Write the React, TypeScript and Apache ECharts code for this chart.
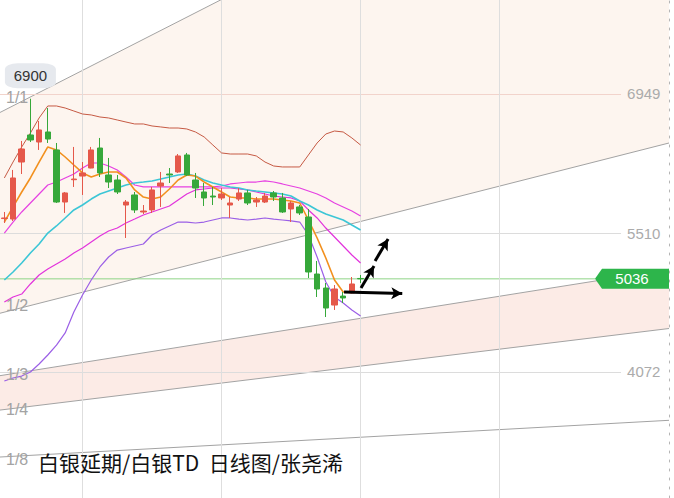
import React, { useEffect, useRef } from "react";
import * as echarts from "echarts";

// ---------- data ----------
const SLOT_COUNT = 77;
const categories = Array.from({ length: SLOT_COUNT }, (_, i) => `D${i + 1}`);

// [open, close, low, high]
const candles = [
  [5660, 5666, 5614, 5728],
  [5655, 6080, 5635, 6163],
  [6245, 6380, 6121, 6463],
  [6525, 6473, 6452, 6900],
  [6452, 6577, 6370, 6670],
  [6556, 6483, 6442, 6804],
  [6370, 5831, 5821, 6442],
  [5831, 5925, 5718, 5935],
  [6062, 6069, 5987, 6401],
  [6100, 6132, 5904, 6245],
  [6183, 6370, 6180, 6401],
  [6390, 6132, 6090, 6494],
  [6111, 6038, 5976, 6287],
  [6059, 5935, 5914, 6111],
  [5800, 5831, 5459, 5852],
  [5904, 5749, 5718, 5935],
  [5728, 5738, 5707, 5800],
  [5749, 5956, 5718, 5987],
  [5997, 6028, 5780, 6142],
  [6121, 6111, 6028, 6183],
  [6142, 6308, 6132, 6328],
  [6318, 6111, 6100, 6339],
  [6059, 5976, 5873, 6132],
  [5935, 5873, 5790, 6028],
  [5893, 5883, 5800, 5987],
  [5873, 5914, 5852, 5976],
  [5800, 5821, 5666, 5883],
  [5862, 5925, 5842, 5976],
  [5925, 5821, 5800, 5956],
  [5831, 5852, 5780, 5883],
  [5831, 5893, 5821, 5925],
  [5925, 5883, 5842, 5945],
  [5873, 5728, 5718, 5925],
  [5759, 5821, 5624, 5842],
  [5780, 5718, 5697, 5800],
  [5676, 5107, 5045, 5759],
  [5086, 4931, 4848, 5221],
  [4941, 4734, 4641, 4993],
  [4765, 4931, 4714, 4972],
  [4858, 4838, 4786, 4900],
  [4890, 4983, 4885, 5055],
  [5040, 5036, 4993, 5076],
];

const upperBand = [6080, 6245, 6401, 6545, 6701, 6825, 6825, 6804, 6773, 6742, 6732, 6711, 6701, 6680, 6659, 6639, 6639, 6618, 6608, 6597, 6597, 6587, 6556, 6504, 6421, 6339, 6328, 6328, 6328, 6308, 6245, 6204, 6194, 6194, 6194, 6318, 6442, 6535, 6566, 6556, 6494, 6421];
const ma5 = [5624, 5780, 5935, 6080, 6245, 6401, 6370, 6297, 6214, 6132, 6090, 6121, 6142, 6142, 6080, 5956, 5883, 5862, 5883, 5966, 6059, 6111, 6100, 6038, 5987, 5935, 5883, 5873, 5873, 5862, 5862, 5862, 5852, 5842, 5821, 5645, 5459, 5252, 5024, 4900, 4900, 4900];
const ma10 = [5510, 5624, 5728, 5821, 5914, 6007, 6038, 6080, 6121, 6183, 6235, 6235, 6204, 6163, 6090, 6007, 5987, 5987, 5987, 5987, 5987, 5987, 5987, 5987, 5987, 5997, 6018, 6028, 6038, 6038, 6049, 6038, 6018, 5997, 5976, 5945, 5914, 5873, 5821, 5780, 5738, 5686];
const ma20 = [5024, 5107, 5200, 5303, 5397, 5510, 5583, 5666, 5749, 5800, 5862, 5914, 5945, 5976, 6007, 6028, 6038, 6049, 6069, 6090, 6111, 6121, 6100, 6059, 6028, 6007, 5987, 5976, 5956, 5945, 5935, 5925, 5914, 5893, 5842, 5800, 5749, 5707, 5676, 5645, 5593, 5542];
const ma30 = [4796, 4848, 4879, 4983, 5076, 5138, 5190, 5241, 5303, 5355, 5417, 5479, 5531, 5562, 5614, 5655, 5697, 5728, 5759, 5790, 5852, 5914, 5956, 5966, 5976, 5976, 5976, 5966, 5956, 5935, 5914, 5893, 5883, 5873, 5842, 5749, 5666, 5562, 5469, 5376, 5283, 5200];
const lowerBand = [3979, 4010, 4030, 4072, 4155, 4248, 4351, 4476, 4693, 4869, 5024, 5159, 5262, 5334, 5355, 5376, 5397, 5490, 5542, 5583, 5624, 5624, 5614, 5624, 5645, 5666, 5666, 5655, 5645, 5655, 5666, 5655, 5645, 5635, 5624, 5490, 5262, 5003, 4848, 4786, 4714, 4651];

// Gann fan lines: price at the left edge and right edge of the plot
const gannLabels = ["1/1", "1/2", "1/3", "1/4", "1/8"];
const gannStart = [6758, 4680, 4034, 3678, 3192];
const gannEnd = [10289, 6442, 5135, 4522, 3572];

const levelLines = [6949, 5510, 4072];
const lastPrice = 5036;
const highMark = { index: 3, value: 6900 };
const verticalMarks = [9, 25, 41, 57];

// arrows: [fromIdx, fromPrice, toIdx, toPrice]
const arrows = [
  [39.1, 4900, 45.8, 4884],
  [41.05, 4941, 42.55, 5169],
  [42.67, 5221, 44.17, 5448],
];

const titleText = "白银延期/白银TD  日线图/张尧浠";

const X_MIN = -0.5;
const X_MAX = SLOT_COUNT - 0.5;
const Y_MIN = 2768;
const Y_MAX = 7921.8;

const UP = "#e5584a";
const DOWN = "#36a83a";

export default function App() {
  const ref = useRef<HTMLDivElement>(null);

  useEffect(() => {
    if (!ref.current) return;
    const chart = echarts.init(ref.current, undefined, { renderer: "svg" });

    const bands: [number, number, string][] = [
      [0, 1, "#fdf5ef"],
      [2, 3, "#fcebe6"],
    ];

    const maLine = (name: string, data: number[], color: string, width: number) => ({
      name,
      type: "line",
      xAxisIndex: 0,
      yAxisIndex: 0,
      data,
      symbol: "none",
      smooth: false,
      z: 5,
      silent: true,
      lineStyle: { color, width },
    });

    const gannSeries = gannLabels.map((lab, i) => {
      const s: any = {
        name: "gann" + lab,
        type: "line",
        xAxisIndex: 1,
        yAxisIndex: 0,
        data: [
          [X_MIN, gannStart[i]],
          [X_MAX, gannEnd[i]],
        ],
        symbol: "none",
        silent: true,
        z: 3,
        lineStyle: { color: "#a3a3a3", width: 1 },
      };
      return s;
    });

    // reference levels on first gann series
    gannSeries[0].markLine = {
      silent: true,
      symbol: ["none", "none"],
      lineStyle: { color: "#dcdcdc", width: 1, type: "solid" },
      label: {
        show: true,
        position: "end",
        distance: 6,
        formatter: "{b}",
        color: "#ababab",
        fontSize: 15,
        fontFamily: "Liberation Sans",
      },
      data: levelLines.map((v, k) => [
        {
          name: String(v),
          coord: [X_MIN, v],
          lineStyle: k === 0 ? { color: "#f2d3cb" } : undefined,
        },
        { coord: [70.98, v] },
      ]),
    };
    // last price line + tag (dedicated carrier series)
    const lastPriceSeries: any = {
      name: "last",
      type: "line",
      xAxisIndex: 1,
      yAxisIndex: 0,
      data: [[X_MIN, lastPrice], [68, lastPrice]],
      symbol: "none",
      silent: true,
      z: 4,
      lineStyle: { color: "#8fd487", width: 1, opacity: 1 },
      markPoint: {
        silent: true,
        symbol: "path://M0,10 L7,0 L74,0 L74,20 L7,20 Z",
        symbolSize: [74, 20],
        symbolKeepAspect: false,
        itemStyle: { color: "#2db54b" },
        label: {
          show: true,
          position: "inside",
          formatter: String(lastPrice),
          color: "#ffffff",
          fontSize: 15,
          fontFamily: "Liberation Sans",
        },
        data: [{ coord: [72.24, lastPrice] }],
      },
    };
    // vertical grid marks
    gannSeries[2].markLine = {
      silent: true,
      symbol: ["none", "none"],
      lineStyle: { color: "#dedede", width: 1, type: "solid" },
      label: { show: false },
      data: verticalMarks.map((x) => ({ xAxis: x })),
    };
    // arrows
    gannSeries[3].markLine = {
      silent: true,
      symbol: ["none", "arrow"],
      symbolSize: [9, 11],
      lineStyle: { color: "#000000", width: 3, type: "solid" },
      label: { show: false },
      z: 10,
      data: arrows.map((a) => [{ coord: [a[0], a[1]] }, { coord: [a[2], a[3]] }]),
    };

    const option: any = {
      animation: false,
      backgroundColor: "#ffffff",
      grid: { left: -1, right: 5, top: 0, bottom: 0, containLabel: false },
      xAxis: [
        {
          type: "category",
          data: categories,
          boundaryGap: true,
          show: false,
        },
        {
          type: "value",
          min: X_MIN,
          max: X_MAX,
          show: false,
        },
      ],
      yAxis: [
        {
          type: "value",
          min: Y_MIN,
          max: Y_MAX,
          position: "right",
          axisLine: {
            show: true,
            onZero: false,
            lineStyle: { color: "#b5b5b5", type: [2, 7], width: 1 },
          },
          axisTick: { show: false },
          axisLabel: { show: false },
          splitLine: { show: false },
        },
      ],
      series: [
        {
          name: "fill",
          type: "custom",
          xAxisIndex: 1,
          yAxisIndex: 0,
          clip: true,
          silent: true,
          z: 1,
          data: bands.map((_, i) => [i, 5000]),
          renderItem: (params: any, api: any) => {
            const [a, b, color] = bands[params.dataIndex];
            const pts = [
              api.coord([X_MIN, gannStart[a]]),
              api.coord([X_MAX, gannEnd[a]]),
              api.coord([X_MAX, gannEnd[b]]),
              api.coord([X_MIN, gannStart[b]]),
            ];
            return { type: "polygon", shape: { points: pts }, style: { fill: color } };
          },
        },
        ...gannSeries,
        lastPriceSeries,
        maLine("upper", upperBand, "#c65a44", 1),
        maLine("lower", lowerBand, "#9b5fe6", 1.2),
        maLine("ma30", ma30, "#e233dc", 1.2),
        maLine("ma10", ma10, "#e640e2", 1.2),
        maLine("ma20", ma20, "#3cc6d6", 1.6),
        maLine("ma5", ma5, "#f2901e", 1.6),
        {
          name: "k",
          type: "candlestick",
          xAxisIndex: 0,
          yAxisIndex: 0,
          data: candles,
          barWidth: 6,
          z: 6,
          silent: true,
          itemStyle: {
            color: UP,
            color0: DOWN,
            borderColor: UP,
            borderColor0: DOWN,
            borderWidth: 1,
          },
          markPoint: {
            silent: true,
            symbol: "roundRect",
            symbolSize: [51, 25],
            symbolOffset: [0, -23],
            itemStyle: { color: "#e6e9ee" },
            label: {
              show: true,
              position: "inside",
              formatter: String(highMark.value),
              color: "#333333",
              fontSize: 15,
              fontFamily: "Liberation Sans",
            },
            data: [{ coord: [highMark.index, highMark.value] }],
          },
        },
      ],
      graphic: [
        ...[
          [gannLabels[0], 97.5],
          [gannLabels[1], 305],
          [gannLabels[2], 374],
          [gannLabels[3], 409],
          [gannLabels[4], 459],
        ].map(([t, y]) => ({
          type: "text",
          silent: true,
          z: 20,
          style: {
            text: t,
            x: 6,
            y: y as number,
            verticalAlign: "middle",
            fill: "#a3a3a3",
            fontSize: 16,
            fontFamily: "Liberation Sans",
          },
        })),
        {
          type: "text",
          silent: true,
          z: 20,
          style: {
            text: titleText,
            x: 38,
            y: 462,
            verticalAlign: "middle",
            fill: "#111111",
            fontSize: 21,
            fontFamily: "Noto Sans CJK SC",
          },
        },
      ],
    };

    chart.setOption(option);
    return () => chart.dispose();
  }, []);

  return (
    <div
      ref={ref}
      style={{ position: "fixed", left: 0, top: 0, width: 674, height: 498, background: "#fff" }}
    />
  );
}
